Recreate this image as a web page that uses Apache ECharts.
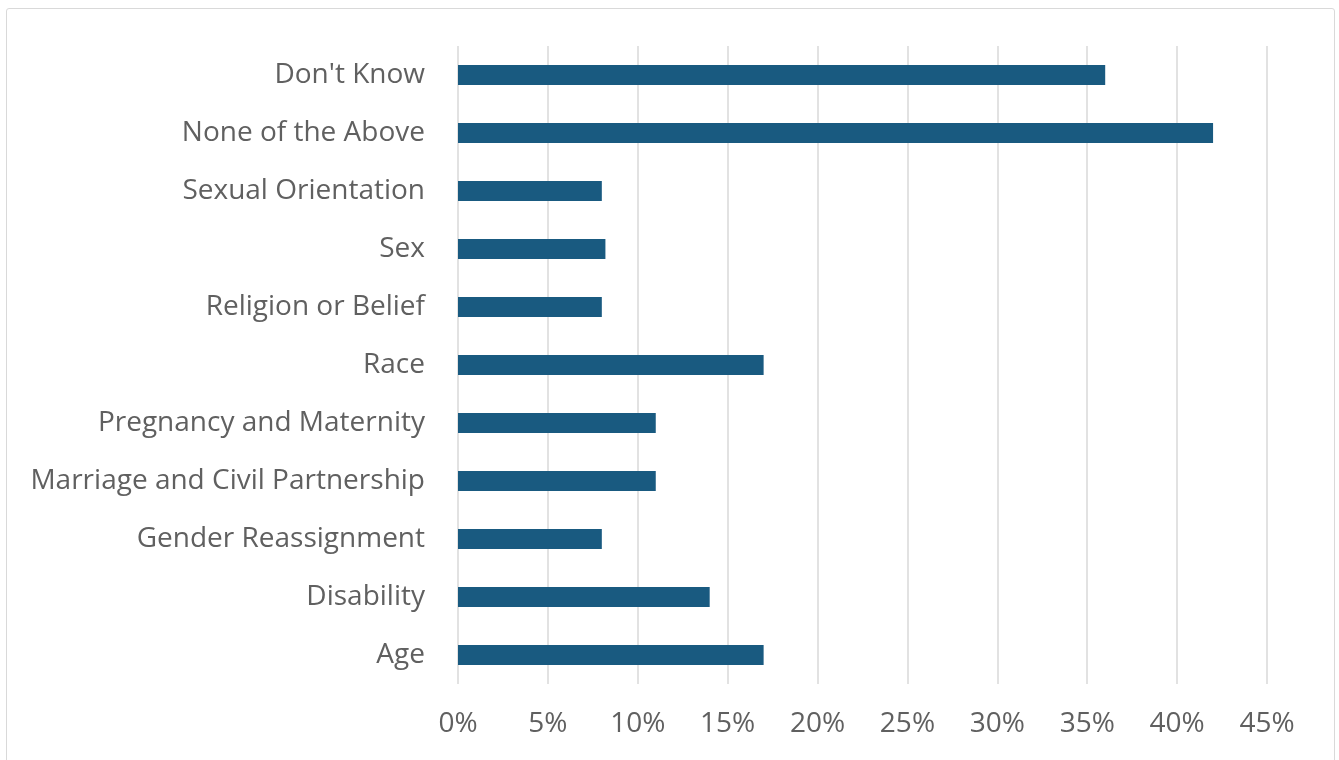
<!DOCTYPE html>
<html>
<head>
<meta charset="utf-8">
<script src="https://cdn.jsdelivr.net/npm/echarts@6/dist/echarts.min.js"></script>
<style>
    html, body { margin: 0; padding: 0; background: #fff; }
    #frame { position: absolute; left: 6px; top: 8px; width: 1327px; height: 800px; border: 1px solid #d9d9d9; border-radius: 3px; }
    #chart { position: absolute; left: 0; top: 0; width: 1339px; height: 760px; }
</style>
</head>
<body>
<div id="frame"></div>
<div id="chart"></div>
<script>
// categories listed bottom to top (ECharts draws category y-axis from the bottom)
const categories = [
    'Age',
    'Disability',
    'Gender Reassignment',
    'Marriage and Civil Partnership',
    'Pregnancy and Maternity',
    'Race',
    'Religion or Belief',
    'Sex',
    'Sexual Orientation',
    'None of the Above',
    "Don't Know"
];
const values = [17, 14, 8, 11, 11, 17, 8, 8.2, 8, 42, 36];
const xTicks = { min: 0, max: 45, step: 5 };

const chart = echarts.init(document.getElementById('chart'));
const fontFamily = '"Open Sans", "Liberation Sans", sans-serif';

chart.setOption({
    animation: false,
    grid: {
        left: 458,
        right: 72,
        top: 46,
        bottom: 76
    },
    xAxis: {
        type: 'value',
        min: xTicks.min,
        max: xTicks.max,
        interval: xTicks.step,
        axisLine: { show: false },
        axisTick: { show: false },
        axisLabel: {
            formatter: '{value}%',
            color: '#606060',
            fontSize: 28,
            fontFamily: fontFamily,
            margin: 26
        },
        splitLine: {
            show: true,
            lineStyle: { color: '#d9d9d9', width: 1.5 }
        }
    },
    yAxis: {
        type: 'category',
        data: categories,
        axisLine: { show: false },
        axisTick: { show: false },
        axisLabel: {
            color: '#606060',
            fontSize: 28,
            fontFamily: fontFamily,
            margin: 33
        }
    },
    series: [{
        type: 'bar',
        data: values,
        barWidth: 20,
        itemStyle: { color: '#195a80' }
    }]
});
</script>
</body>
</html>
